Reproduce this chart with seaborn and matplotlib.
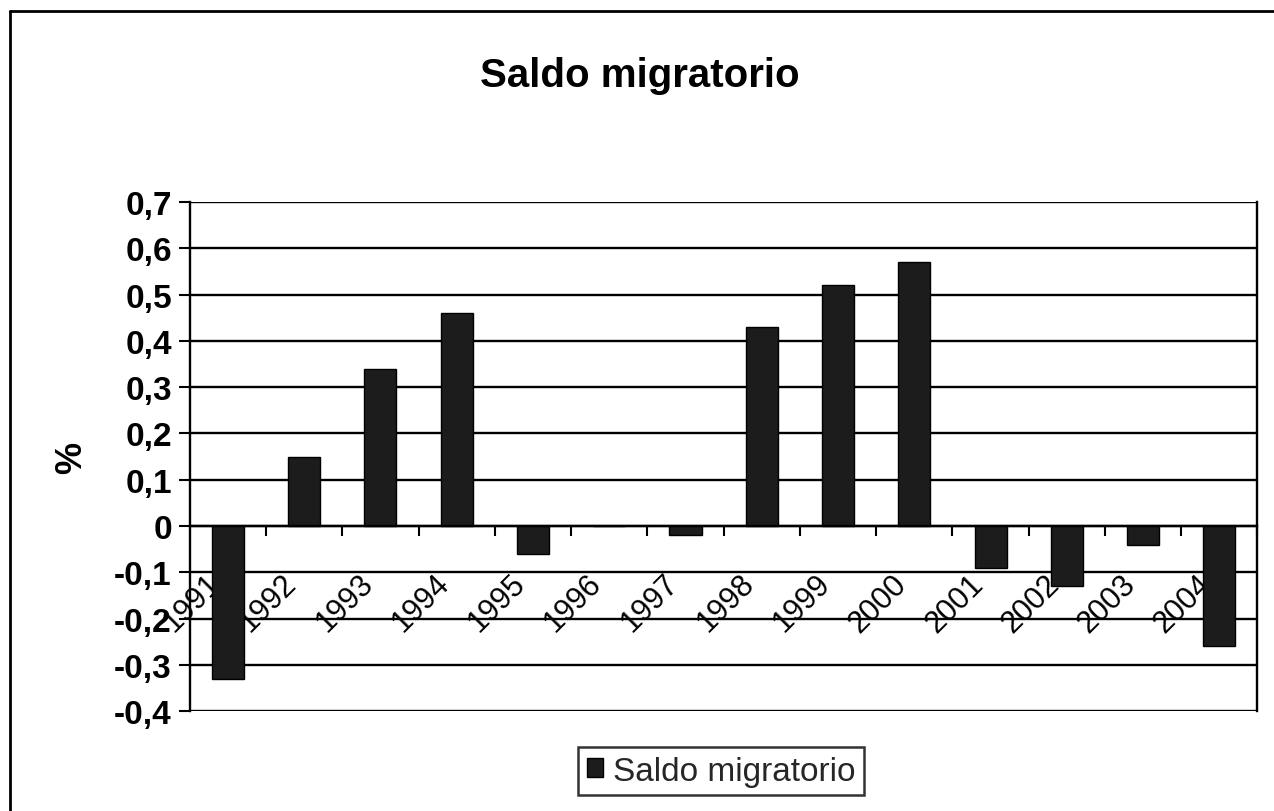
import numpy as np
import matplotlib
matplotlib.use('Agg')
import matplotlib.pyplot as plt
import matplotlib.transforms as mtransforms
from matplotlib.lines import Line2D
import seaborn as sns

# data
years = ['1991', '1992', '1993', '1994', '1995', '1996', '1997',
         '1998', '1999', '2000', '2001', '2002', '2003', '2004']
saldo = [-0.33, 0.15, 0.34, 0.46, -0.06, 0.0, -0.02,
         0.43, 0.52, 0.57, -0.09, -0.13, -0.04, -0.26]
y_ticks = [-0.4, -0.3, -0.2, -0.1, 0, 0.1, 0.2, 0.3, 0.4, 0.5, 0.6, 0.7]
y_labels = ['-0,4', '-0,3', '-0,2', '-0,1', '0', '0,1', '0,2', '0,3',
            '0,4', '0,5', '0,6', '0,7']

sns.set_style('white')
plt.rcParams['font.family'] = ['Liberation Sans', 'DejaVu Sans']

fig = plt.figure(figsize=(12.74, 8.12), dpi=100)
ax = fig.add_axes([0.149, 0.123, 0.838, 0.627])

bar_color = '#1c1c1c'
sns.barplot(x=years, y=saldo, color=bar_color, width=0.42,
            edgecolor='black', linewidth=1, saturation=1, ax=ax)

ax.set_ylim(-0.4, 0.7)
ax.set_xlim(-0.5, len(years) - 0.5)
ax.set_yticks(y_ticks)
ax.set_yticklabels(y_labels, fontsize=24, fontweight='bold')
for y in y_ticks:
    ax.axhline(y, color='black', lw=1.7, zorder=0)

# category axis crosses at zero, ticks between categories
ax.spines['bottom'].set_position(('data', 0))
ax.set_xticks(np.arange(len(years)))
ax.set_xticks(np.arange(len(years)) + 0.5, minor=True)
ax.tick_params(axis='x', which='major', length=0, pad=38)
ax.tick_params(axis='x', which='minor', length=7, width=1.5,
               direction='out', color='black', bottom=True)
ax.set_xticklabels(years, fontsize=22, rotation=45, ha='right',
                   va='center', rotation_mode='anchor', color='black')
offset = mtransforms.ScaledTranslation(-12 / 100, 0, fig.dpi_scale_trans)
for lab in ax.get_xticklabels():
    lab.set_transform(lab.get_transform() + offset)

ax.tick_params(axis='y', length=8, width=1.5, direction='out',
               color='black', left=True, pad=5, labelcolor='black')
for side in ['left', 'right', 'top', 'bottom']:
    ax.spines[side].set_color('black')
    ax.spines[side].set_linewidth(1.7)
ax.spines['top'].set_visible(False)
ax.set_xlabel('')
ax.set_ylabel('%', fontsize=26, fontweight='bold', labelpad=18,
              color='black')

fig.text(0.502, 0.907, 'Saldo migratorio', ha='center', va='center',
         fontsize=29, fontweight='bold', color='black')

handle = plt.Rectangle((0, 0), 1, 1, facecolor=bar_color, edgecolor='black')
leg = fig.legend([handle], ['Saldo migratorio'], loc='center',
                 bbox_to_anchor=(0.566, 0.049), fontsize=24, frameon=True,
                 fancybox=False, edgecolor='black', handlelength=0.5,
                 handleheight=0.5, handletextpad=0.3, borderpad=0.25)
leg.get_frame().set_linewidth(1.8)

# outer chart border (right side falls outside the scan)
for xs, ys in [([0.008, 0.008], [0.0, 0.985]),
               ([0.008, 1.0], [0.985, 0.985])]:
    fig.add_artist(Line2D(xs, ys, color='black', lw=2,
                          transform=fig.transFigure))

fig.savefig('out.png', dpi=100)
